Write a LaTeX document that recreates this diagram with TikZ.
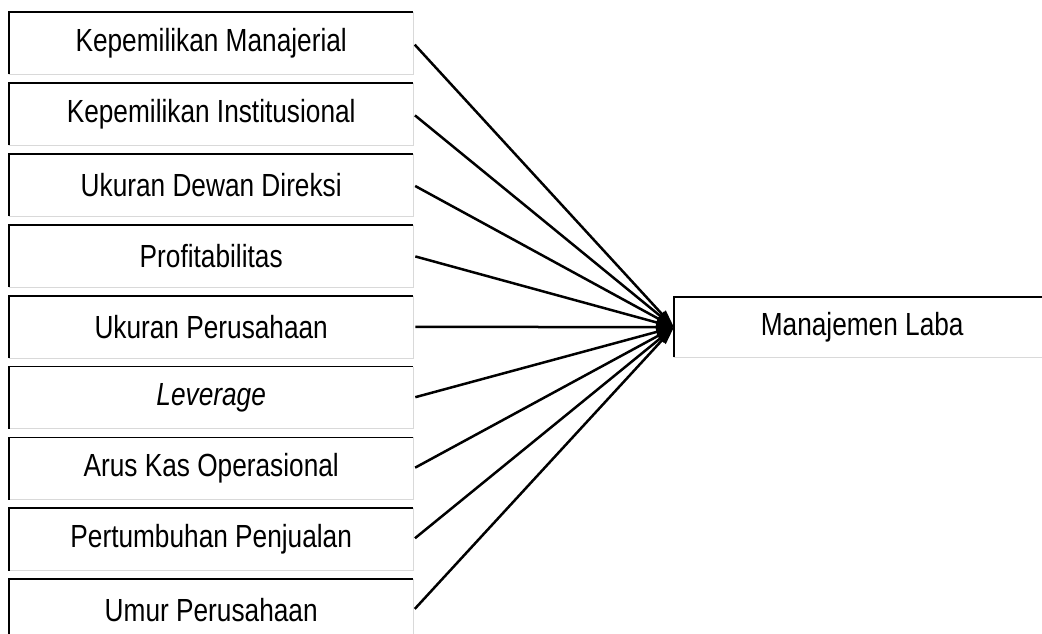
\documentclass[tikz,border=0pt]{standalone}
\usepackage{fontspec}
\setmainfont[FakeStretch=0.82]{Liberation Sans}
\usetikzlibrary{positioning,arrows.meta}

\begin{document}
\begin{tikzpicture}[x=1pt,y=-1pt,
    varbox/.style={minimum width=404pt,minimum height=62pt,inner sep=0pt,font=\fontsize{32}{36}\selectfont},
    link/.style={-{Triangle[length=18pt,width=10pt]},line width=2.5pt,shorten <=2pt}]
        \useasboundingbox (0,0) rectangle (1042,633);

        \node[varbox,anchor=north west] (v1) at (9,12) {Kepemilikan Manajerial};
        \node[varbox,below=8.5pt of v1] (v2) {Kepemilikan Institusional};
        \node[varbox,below=8.5pt of v2] (v3) {Ukuran Dewan Direksi};
        \node[varbox,below=8.5pt of v3] (v4) {Profitabilitas};
        \node[varbox,below=8.5pt of v4] (v5) {Ukuran Perusahaan};
        \node[varbox,below=8.5pt of v5] (v6) {\itshape Leverage};
        \node[varbox,below=8.5pt of v6] (v7) {Arus Kas Operasional};
        \node[varbox,below=8.5pt of v7] (v8) {Pertumbuhan Penjualan};
        \node[varbox,below=8.5pt of v8] (v9) {Umur Perusahaan};
        \node[varbox,minimum width=376pt,minimum height=60pt,anchor=north west] (ml) at (674,297) {Manajemen Laba};

        \foreach \n in {v1,v2,v3,v4,v5,v6,v7,v8,v9,ml} {
            \draw[gray!30,line width=1pt] (\n.north east) |- (\n.south west);
            \draw[line width=1.8pt] (\n.south west) |- (\n.north east);
        }

        \foreach \n in {v1,v2,v3,v4,v5,v6,v7,v8,v9}
            \draw[link] (\n.east) -- (ml.west);
    \end{tikzpicture}
\end{document}
